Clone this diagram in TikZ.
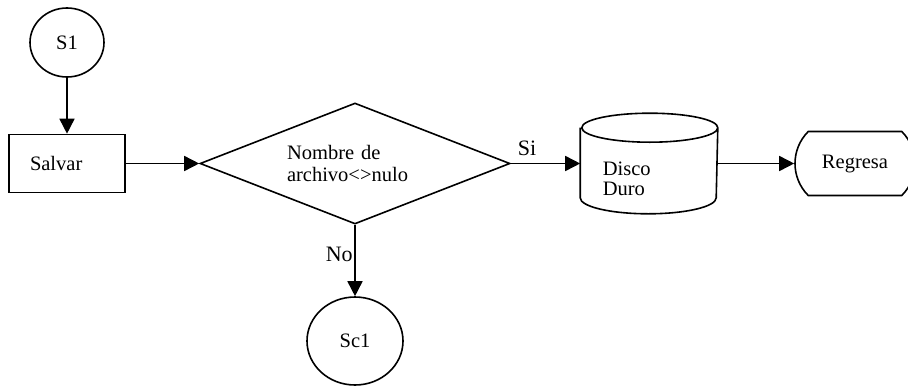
\documentclass[tikz,border=0pt]{standalone}
\usepackage{fontspec}
\setmainfont{Liberation Serif}
\usetikzlibrary{positioning}
\usetikzlibrary{shapes.geometric}
\usetikzlibrary{shapes.misc}
\usetikzlibrary{arrows.meta}

\begin{document}
\begin{tikzpicture}[x = 1pt, y = 1pt, line width = 1.6pt,
		every node/.style = {font = \fontsize{20.5pt}{22pt}\selectfont, inner sep = 0pt},
		flecha/.style = {-{Triangle[length = 15pt, width = 15pt]}},
		conector/.style = {draw, ellipse},
		proceso/.style = {draw, rectangle, minimum width = 116pt, minimum height = 58pt, text width = 74pt, align = left},
		decision/.style = {draw, diamond, aspect = 2.56, minimum width = 310pt, minimum height = 121pt, text width = 136pt, align = left},
		disco/.style = {rectangle, minimum width = 136pt, minimum height = 99pt},
		fin/.style = {draw, rounded rectangle, rounded rectangle arc length = 90, minimum width = 120pt, minimum height = 64pt},
		rotulo/.style = {font = \fontsize{22pt}{22pt}\selectfont, anchor = base west}]
	\useasboundingbox (0, 0) rectangle (908, -386);
	\node [conector, minimum width = 74pt, minimum height = 69pt] (s1) at (67, -42.5) {S1};
	\node [proceso] (salvar) at (67, -163.5) {Salvar};
	\node [decision] (nombre) at (355, -163.5) {Nombre de\\archivo<>nulo};
	\node [disco] (disco) at (649, -163.5) {};
	\draw ([yshift = -14.5pt]disco.north west) -- ([yshift = 16pt]disco.south west) arc (180 : 360 : 68pt and 16pt)
		-- ([yshift = -14.5pt]disco.north east) arc (0 : 180 : 68pt and 14.5pt) arc (180 : 360 : 68pt and 14.5pt);
	\node [align = left, anchor = north west, font = \fontsize{20.5pt}{20pt}\selectfont] (discotxt) at (602, -161) {Disco\\Duro};
	\node [fin] (regresa) at (855, -163.5) {Regresa};
	\node [conector, minimum width = 96pt, minimum height = 88pt] (sc1) at (355, -341) {Sc1};
	\node [rotulo] (si) at (517, -155) {Si};
	\node [rotulo] (no) at (325, -261) {No};
	\draw [flecha] (s1) -- (salvar);
	\draw [flecha] (salvar) -- (nombre);
	\draw [flecha] (nombre) -- (disco);
	\draw [flecha] (disco) -- (regresa);
	\draw [flecha] (nombre) -- (sc1);
\end{tikzpicture}
\end{document}
